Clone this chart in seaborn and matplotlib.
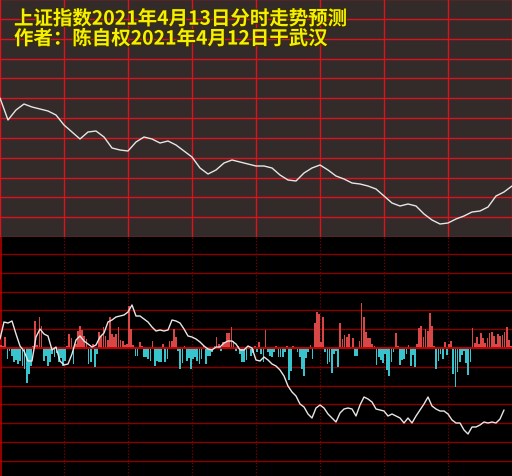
import numpy as np
import pandas as pd
import matplotlib
matplotlib.use("Agg")
import matplotlib.pyplot as plt
import matplotlib.patheffects as pe
import seaborn as sns

sns.set_style("dark")
plt.rcParams['font.family'] = ['Noto Sans CJK SC', 'DejaVu Sans']

title_lines = ["上证指数2021年4月13日分时走势预测", "作者：陈自权2021年4月12日于武汉"]

# top panel: forecast price curve (height above panel bottom, px-like units), 65 samples over 240 minutes
top_curve = [139, 117, 127, 133, 130, 128, 126, 122, 112, 105, 98, 105, 106, 100, 89, 87,
             86, 95, 100, 98, 94, 96, 92, 86, 80, 69, 63, 67, 74, 77, 75, 73,
             71, 71, 69, 62, 57, 56, 64, 69, 72, 67, 61, 58, 54, 53, 51, 48,
             41, 34, 31, 33, 31, 23, 17, 13, 14, 18, 21, 25, 26, 30, 41, 45, 51]

# bottom panel: intraday curve (relative to zero line), 127 samples
bottom_curve = [9, 26, 25, 27, 14, 2, -3, -13, -13, 11, 19, 14, 12, -2, 1, -13,
                -17, -16, -6, 8, 12, 7, 4, 1, 3, 11, 15, 26, 28, 31, 32, 33,
                36, 43, 32, 32, 29, 26, 21, 17, 18, 17, 18, 28, 27, 25, 19, 12,
                11, 9, 6, 2, -1, -2, 1, 1, 5, 7, 7, 4, -2, -2, 2, 0,
                -12, -13, -9, -12, -16, -18, -22, -28, -38, -44, -48, -56, -59, -66, -70, -60,
                -57, -60, -66, -70, -74, -65, -61, -60, -61, -68, -57, -49, -51, -54, -61, -62,
                -63, -68, -66, -68, -70, -75, -70, -75, -68, -62, -56, -49, -58, -61, -63, -63,
                -66, -72, -75, -75, -82, -86, -79, -79, -77, -74, -75, -74, -75, -71, -62]

# bottom panel: per-minute bars (240)
bar_vals = [3, 2, 11, -11, -3, -8, -14, -12, -16, -13, -18, -21, -35, -26, -18, 2,
            27, 3, 31, 22, -13, -8, -18, -14, -6, -9, -5, -14, -10, -18, -13, 2,
            14, 10, -16, 4, 17, 22, 18, 12, 9, -16, -14, 4, -19, -6, 16, 12,
            21, 12, 8, 31, 14, 11, 14, 21, 8, 7, 3, 4,
            42, 19, 3, -8, -8, 6, 2, -9, -9, -11, -13, 7, -18, -13, -14, -14,
            4, -14, -11, 7, 7, 19, 11, -3, -21, -15, 2, -13, -10, -21, -11, -9,
            -13, -16, -11, 2, -16, -8, -8, -4, 2, 11, 4, -3, 6, 5, 15, 15,
            21, 7, -3, 2, -6, -14, -14, -12, 2, -8, -5, 2,
            -4, 6, -6, -14, 18, -4, -8, -9, -4, 2, -9, -9, -9, -4, 2, -32,
            -23, 2, 1, -4, -9, -21, -28, -10, -4, 3, -11, 25, 36, 34, 6, 31,
            -4, -16, -14, -25, -6, -3, -19, 25, 9, 13, 11, 14, 1, 10, -8, -8,
            7, 45, 31, 16, 10, 10, 4, 2, -17, -9, -12, -15,
            -6, -22, -28, -14, -4, 15, 2, -17, -12, -11, -6, 3, -18, -7, -19, 4,
            20, 22, 11, 19, 17, 35, 22, 2, -21, -13, -6, -11, 6, -7, 4, 7,
            -26, -39, -24, -14, -7, -3, -15, -27, -14, 20, 5, 11, 4, 15, 10, 5,
            10, 15, 16, 12, 4, 14, 12, 13, 16, 21, 8, 2]

minutes = 240
top_t = np.arange(len(top_curve)) * minutes / (len(top_curve) - 1)
bot_t = np.arange(len(bottom_curve)) * minutes / 128
bar_t = np.arange(len(bar_vals)) + 0.5

fig = plt.figure(figsize=(5.12, 4.77), dpi=100)
fig.patch.set_facecolor("black")

H = 477.0
ax1 = fig.add_axes([0, 239 / H, 1, 238 / H])
ax2 = fig.add_axes([0, 0, 1, 239 / H])

# ---- top panel ----
ax1.set_facecolor("#332a2a")
ax1.set_xlim(0, minutes)
ax1.set_ylim(0, 238)
for k in range(13):
    ax1.axhline(k * 238 / 12, color="#d8141e", lw=1.0, zorder=1)
for k in range(9):
    ax1.axvline(k * 30, color="#d8141e", lw=1.0, zorder=1)
sns.lineplot(x=top_t, y=top_curve, ax=ax1, color="#e6e6e6", lw=1.0, zorder=3)
ax1.set_xticks([]); ax1.set_yticks([])
for s in ax1.spines.values():
    s.set_visible(False)
ax1.grid(False)

# ---- bottom panel ----
ax2.set_facecolor("black")
ax2.set_xlim(0, minutes)
ax2.set_ylim(-128, 111)
for k in range(-6, 6):
    if k == 0:
        continue
    ax2.axhline(k * 18.8, color="#8a0000", lw=1.0, zorder=1)
for k in range(1, 8):
    ax2.axvline(k * 30, color="#7a0000", lw=0.9, ls=(0, (1, 1.5)), zorder=1)
ax2.axvline(0.4, color="#b00000", lw=1.2, zorder=1)

df = pd.DataFrame({"t": bar_t, "v": bar_vals})
df["sign"] = np.where(df["v"] >= 0, "up", "down")
sns.barplot(data=df, x="t", y="v", hue="sign", palette={"up": "#d84646", "down": "#38c4cc"},
            native_scale=True, width=0.8, saturation=1, errorbar=None, legend=False,
            ax=ax2, zorder=2, linewidth=0)
ax2.axhline(0, color="#c80000", lw=1.4, zorder=3)
sns.lineplot(x=bot_t, y=bottom_curve, ax=ax2, color="#e6e6e6", lw=1.0, zorder=4)
ax2.set_xlim(0, minutes)
ax2.set_ylim(-128, 111)
ax2.set_xticks([]); ax2.set_yticks([])
ax2.set_xlabel(""); ax2.set_ylabel("")
for s in ax2.spines.values():
    s.set_visible(False)
ax2.grid(False)

# ---- title text ----
for i, line in enumerate(title_lines):
    fig.text(14 / 512, 1 - (20 + 20 * i) / H, line, color="#f5f000", fontsize=14,
             fontweight="bold", ha="left", va="center",
             path_effects=[pe.withStroke(linewidth=1.5, foreground="#3a3000")])

fig.savefig("out.png", dpi=100, facecolor=fig.get_facecolor())
